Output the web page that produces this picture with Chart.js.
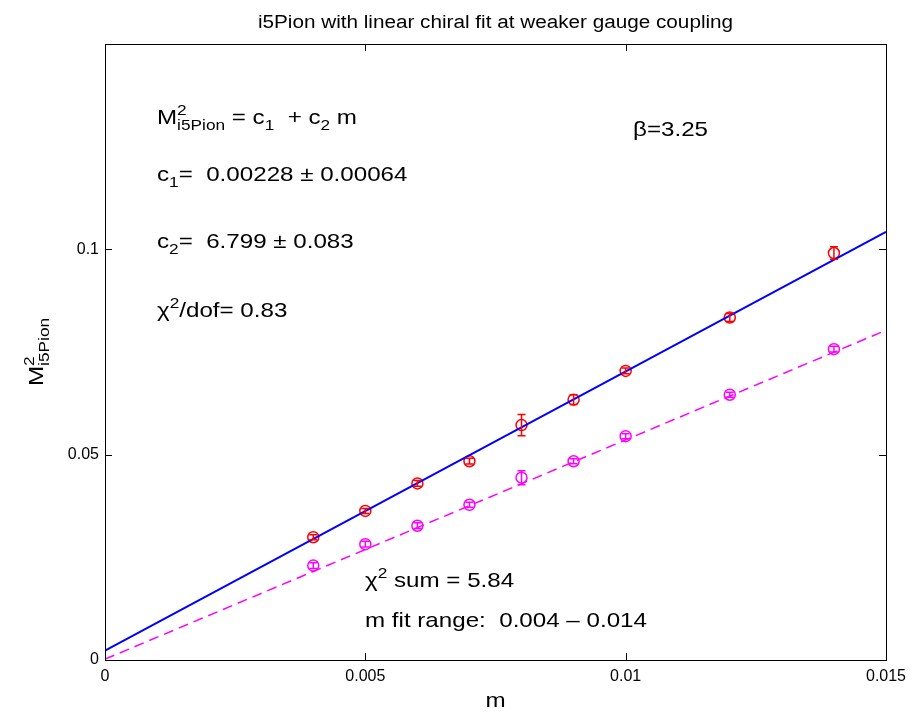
<!DOCTYPE html>
<html>
<head>
<meta charset="utf-8">
<script src="https://cdn.jsdelivr.net/npm/chart.js@4/dist/chart.umd.min.js"></script>
<style>
  html, body { margin: 0; padding: 0; background: #fff; }
  #chart { display: block; }
</style>
</head>
<body>
<canvas id="chart" width="921" height="715"></canvas>
<script>
// ================= DATA =================
const mValues = [0.004, 0.005, 0.006, 0.007, 0.008, 0.009, 0.010, 0.012, 0.014];
const redM2 = [0.0299, 0.0363, 0.0430, 0.0484, 0.0572, 0.0634, 0.0704, 0.0834, 0.0991];
const redErr = [0.0006, 0.0006, 0.0007, 0.0007, 0.0026, 0.0012, 0.0007, 0.0010, 0.0015];
const magM2 = [0.0230, 0.0282, 0.0327, 0.0378, 0.0444, 0.0484, 0.0545, 0.0646, 0.0757];
const magErr = [0.0007, 0.0007, 0.0007, 0.0006, 0.0017, 0.0006, 0.0006, 0.0006, 0.0007];

// fit lines (end points)
const fitM = [0, 0.015];
const fitBlue = [0.00228, 0.10427];
const fitMagenta = [0.0002, 0.0803];

const xTicks = [0, 0.005, 0.01, 0.015];
const yTicks = [0, 0.05, 0.1];

const FONT = '"Liberation Sans", Arial, Helvetica, sans-serif';
const STRETCH = 1.15;

function pts(xs, ys) {
  return xs.map((x, i) => ({ x: x, y: ys[i] }));
}

// draw text made of parts: [text, size, dy, stack]
// stack = true -> next part starts at same x (sup over sub)
function richText(ctx, x, y, parts) {
  ctx.save();
  ctx.translate(x, y);
  ctx.scale(STRETCH, 1);
  let cx = 0;
  let stackStart = null;
  let stackW = 0;
  parts.forEach(p => {
    const [txt, size, dy, stack] = p;
    ctx.font = size + "px " + FONT;
    const w = ctx.measureText(txt).width;
    const startX = stackStart !== null ? stackStart : cx;
    ctx.fillText(txt, startX, dy || 0);
    if (stack) {
      stackStart = startX;
      stackW = w;
    } else if (stackStart !== null) {
      cx = startX + Math.max(w, stackW);
      stackStart = null;
      stackW = 0;
    } else {
      cx += w;
    }
  });
  ctx.restore();
}

// ================= PLUGINS =================
const frameAndTicks = {
  id: "frameAndTicks",
  afterDraw(chart) {
    const { ctx, chartArea: a, scales } = chart;
    ctx.save();
    ctx.strokeStyle = "#000";
    ctx.lineWidth = 1;
    ctx.strokeRect(a.left + 0.5, a.top + 0.5, a.right - a.left, a.bottom - a.top);
    const tl = 7;
    ctx.beginPath();
    xTicks.forEach(v => {
      const px = Math.round(scales.x.getPixelForValue(v)) + 0.5;
      ctx.moveTo(px, a.bottom); ctx.lineTo(px, a.bottom - tl);
      ctx.moveTo(px, a.top); ctx.lineTo(px, a.top + tl);
    });
    yTicks.forEach(v => {
      const py = Math.round(scales.y.getPixelForValue(v)) + 0.5;
      ctx.moveTo(a.left, py); ctx.lineTo(a.left + tl, py);
      ctx.moveTo(a.right, py); ctx.lineTo(a.right - tl, py);
    });
    ctx.stroke();
    ctx.restore();
  }
};

const errorBars = {
  id: "errorBars",
  afterDatasetsDraw(chart) {
    const { ctx, scales } = chart;
    const sets = [
      { ys: redM2, errs: redErr, color: "#ff0000" },
      { ys: magM2, errs: magErr, color: "#ff00ff" }
    ];
    ctx.save();
    ctx.lineWidth = 1.5;
    sets.forEach(s => {
      ctx.strokeStyle = s.color;
      ctx.beginPath();
      mValues.forEach((m, i) => {
        const px = scales.x.getPixelForValue(m);
        const top = scales.y.getPixelForValue(s.ys[i] + s.errs[i]);
        const bot = scales.y.getPixelForValue(s.ys[i] - s.errs[i]);
        ctx.moveTo(px, top); ctx.lineTo(px, bot);
        ctx.moveTo(px - 4, top); ctx.lineTo(px + 4, top);
        ctx.moveTo(px - 4, bot); ctx.lineTo(px + 4, bot);
      });
      ctx.stroke();
    });
    ctx.restore();
  }
};

const labels = {
  id: "labels",
  afterDraw(chart) {
    const ctx = chart.ctx;
    const a = chart.chartArea;
    ctx.save();
    ctx.fillStyle = "#000";
    ctx.textBaseline = "alphabetic";

    // title
    ctx.font = "18px " + FONT;
    const title = "i5Pion with linear chiral fit at weaker gauge coupling";
    const tw = ctx.measureText(title).width * STRETCH;
    richText(ctx, (a.left + a.right) / 2 - tw / 2, 28, [[title, 18]]);

    // fit info
    richText(ctx, 157, 124, [["M", 21], ["2", 15, -9, true], ["i5Pion", 15, 6], [" = c", 21], ["1", 15, 6], ["  + c", 21], ["2", 15, 6], [" m", 21]]);
    richText(ctx, 157, 181, [["c", 21], ["1", 15, 6], ["=  0.00228 \u00b1 0.00064", 21]]);
    richText(ctx, 157, 248, [["c", 21], ["2", 15, 6], ["=  6.799 \u00b1 0.083", 21]]);
    richText(ctx, 157, 317, [["\u03c7", 21], ["2", 15, -9], ["/dof= 0.83", 21]]);
    richText(ctx, 633, 136, [["\u03b2=3.25", 21]]);
    richText(ctx, 365, 587, [["\u03c7", 21], ["2", 15, -9], [" sum = 5.84", 21]]);
    richText(ctx, 365, 627, [["m fit range:  0.004 \u2013 0.014", 21]]);

    // x axis title
    ctx.font = "21px " + FONT;
    const mw = ctx.measureText("m").width * STRETCH;
    richText(ctx, (a.left + a.right) / 2 - mw / 2, 707, [["m", 21]]);

    // y axis title (rotated)
    ctx.save();
    ctx.translate(43, 386);
    ctx.rotate(-Math.PI / 2);
    richText(ctx, 0, 0, [["M", 21], ["2", 15, -9, true], ["i5Pion", 15, 6]]);
    ctx.restore();

    ctx.restore();
  }
};

// ================= CHART =================
const ctx = document.getElementById("chart");

new Chart(ctx, {
  type: "scatter",
  data: {
    datasets: [
      {
        label: "fit",
        type: "line",
        data: pts(fitM, fitBlue),
        borderColor: "#0000ff",
        borderWidth: 2,
        pointRadius: 0,
        fill: false
      },
      {
        label: "fit 2",
        type: "line",
        data: pts(fitM, fitMagenta),
        borderColor: "#ff00ff",
        borderWidth: 1.5,
        borderDash: [10, 6],
        pointRadius: 0,
        fill: false
      },
      {
        label: "i5Pion",
        data: pts(mValues, redM2),
        borderColor: "#ff0000",
        backgroundColor: "rgba(0,0,0,0)",
        borderWidth: 1.5,
        pointRadius: 5.5
      },
      {
        label: "i5Pion 2",
        data: pts(mValues, magM2),
        borderColor: "#ff00ff",
        backgroundColor: "rgba(0,0,0,0)",
        borderWidth: 1.5,
        pointRadius: 5.5
      }
    ]
  },
  options: {
    responsive: false,
    animation: false,
    layout: { padding: { top: 44, right: 35, left: 0, bottom: 0 } },
    plugins: {
      legend: { display: false },
      tooltip: { enabled: false }
    },
    scales: {
      x: {
        type: "linear",
        min: 0,
        max: 0.015,
        grid: { display: false, drawTicks: false },
        border: { display: false },
        afterBuildTicks: s => { s.ticks = xTicks.map(v => ({ value: v })); },
        afterFit: s => { s.height = 55; },
        ticks: {
          padding: 7,
          maxRotation: 0,
          color: "#000",
          font: { family: FONT, size: 16 },
          callback: v => String(+v.toFixed(3))
        }
      },
      y: {
        type: "linear",
        min: 0,
        max: 0.15,
        grid: { display: false, drawTicks: false },
        border: { display: false },
        afterBuildTicks: s => { s.ticks = yTicks.map(v => ({ value: v })); },
        afterFit: s => { s.width = 105; },
        ticks: {
          padding: 6,
          color: "#000",
          font: { family: FONT, size: 16 },
          callback: v => String(+v.toFixed(2))
        }
      }
    }
  },
  plugins: [frameAndTicks, errorBars, labels]
});
</script>
</body>
</html>
